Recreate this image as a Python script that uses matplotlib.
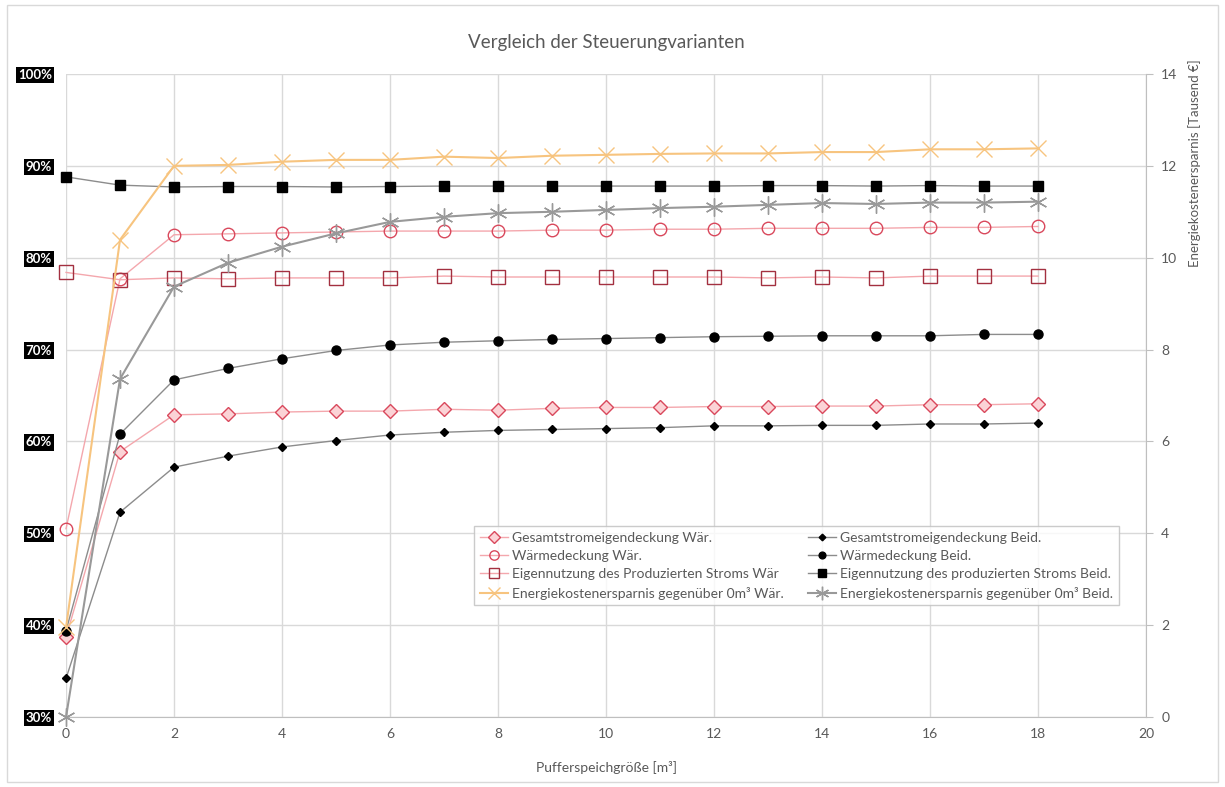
import matplotlib
matplotlib.use('Agg')
import matplotlib.pyplot as plt
from matplotlib.patches import Rectangle

plt.rcParams['font.family'] = ['Lato', 'DejaVu Sans']

TEXT_COLOR = '#595959'
GRID_COLOR = '#d9d9d9'

size = list(range(0, 19))

gesamt_waer = [38.7, 58.9, 62.9, 63.0, 63.2, 63.3, 63.3, 63.5, 63.4, 63.6, 63.7, 63.7,
               63.8, 63.8, 63.85, 63.85, 64.0, 64.0, 64.1]
waerme_waer = [50.5, 77.7, 82.5, 82.6, 82.7, 82.8, 82.9, 82.9, 82.9, 83.0, 83.0, 83.1,
               83.1, 83.2, 83.2, 83.2, 83.3, 83.3, 83.4]
eigen_waer = [78.4, 77.6, 77.8, 77.7, 77.8, 77.8, 77.8, 78.0, 77.9, 77.9, 77.9, 77.9,
              77.9, 77.8, 77.9, 77.8, 78.0, 78.0, 78.0]
kosten_waer = [1.95, 10.39, 12.0, 12.02, 12.09, 12.13, 12.13, 12.2, 12.17, 12.22, 12.24,
               12.26, 12.27, 12.27, 12.3, 12.3, 12.36, 12.36, 12.38]

gesamt_beid = [34.2, 52.3, 57.2, 58.4, 59.4, 60.1, 60.7, 61.0, 61.2, 61.3, 61.4, 61.5,
               61.7, 61.7, 61.75, 61.75, 61.9, 61.9, 62.0]
waerme_beid = [39.4, 60.8, 66.7, 67.95, 69.0, 69.9, 70.5, 70.8, 70.96, 71.1, 71.2, 71.3,
               71.4, 71.45, 71.5, 71.5, 71.5, 71.65, 71.65]
eigen_beid = [88.8, 87.9, 87.7, 87.75, 87.75, 87.7, 87.75, 87.8, 87.8, 87.8, 87.8, 87.8,
              87.8, 87.85, 87.85, 87.8, 87.85, 87.8, 87.8]
kosten_beid = [0.0, 7.36, 9.37, 9.89, 10.24, 10.53, 10.78, 10.89, 10.97, 11.0, 11.04,
               11.08, 11.11, 11.15, 11.19, 11.17, 11.2, 11.2, 11.22]

fig = plt.figure(figsize=(12.25, 7.87), dpi=100)
fig.patches.append(Rectangle((0.006, 0.006), 0.988, 0.988, transform=fig.transFigure,
                             fill=False, edgecolor=GRID_COLOR, linewidth=1))

ax = fig.add_axes([0.0539, 0.0889, 0.8816, 0.8171])
ax2 = ax.twinx()

# left axis (percent)
l1, = ax.plot(size, gesamt_waer, color='#f4a7ad', lw=1, marker='D', ms=7.5,
              mfc='#fbd3d6', mec='#d9485c', mew=1, clip_on=False,
              label='Gesamtstromeigendeckung Wär.')
l2, = ax.plot(size, waerme_waer, color='#f4a7ad', lw=1, marker='o', ms=9,
              mfc='none', mec='#d9485c', mew=1, clip_on=False,
              label='Wärmedeckung Wär.')
l3, = ax.plot(size, eigen_waer, color='#f4a7ad', lw=1, marker='s', ms=10,
              mfc='none', mec='#a33040', mew=1, clip_on=False,
              label='Eigennutzung des Produzierten Stroms Wär')
l5, = ax.plot(size, gesamt_beid, color='#8c8c8c', lw=1, marker='D', ms=4.5,
              mfc='black', mec='black', clip_on=False,
              label='Gesamtstromeigendeckung Beid.')
l6, = ax.plot(size, waerme_beid, color='#8c8c8c', lw=1, marker='o', ms=6.5,
              mfc='black', mec='black', clip_on=False,
              label='Wärmedeckung Beid.')
l7, = ax.plot(size, eigen_beid, color='#8c8c8c', lw=1, marker='s', ms=7,
              mfc='black', mec='black', clip_on=False,
              label='Eigennutzung des produzierten Stroms Beid.')

# right axis (Tausend €)
l4, = ax2.plot(size, kosten_waer, color='#f7c47f', lw=1.5, marker='x', ms=12,
               mec='#f7c47f', mew=1, clip_on=False,
               label='Energiekostenersparnis gegenüber 0m³ Wär.')
l8, = ax2.plot(size, kosten_beid, color='#999999', lw=1.5, marker=(6, 2, 0), ms=13,
               mec='#999999', mew=1, clip_on=False,
               label='Energiekostenersparnis gegenüber 0m³ Beid.')

ax.set_xlim(0, 20)
ax.set_ylim(30, 100)
ax2.set_ylim(0, 14)
ax.set_xticks(range(0, 21, 2))
ax.set_yticks(range(30, 101, 10))
ax.set_yticklabels([f'{v}%' for v in range(30, 101, 10)])
ax2.set_yticks(range(0, 15, 2))

ax.grid(True, color=GRID_COLOR, lw=1)
ax.set_axisbelow(True)
for s in ['top', 'left']:
    ax.spines[s].set_visible(False)
for s in ['top', 'left', 'bottom']:
    ax2.spines[s].set_visible(False)
ax.spines['right'].set_visible(False)
ax.spines['bottom'].set_color('#bfbfbf')
ax2.spines['right'].set_color('#bfbfbf')

ax.tick_params(axis='x', length=0, labelsize=10, labelcolor=TEXT_COLOR, pad=8)
ax.tick_params(axis='y', length=0, labelsize=9.5, labelcolor='white', pad=10)
for lbl in ax.get_yticklabels():
    lbl.set_fontweight('bold')
    lbl.set_bbox(dict(facecolor='black', edgecolor='none', pad=1.5))
ax2.tick_params(axis='y', length=5, color='#bfbfbf', labelsize=10,
                labelcolor=TEXT_COLOR, pad=6)

fig.text(0.495, 0.946, 'Vergleich der Steuerungvarianten', ha='center', va='center',
         fontsize=13.5, color=TEXT_COLOR)
fig.text(0.495, 0.025, 'Pufferspeichgröße [m³]', ha='center', va='center',
         fontsize=10, color=TEXT_COLOR)
fig.text(0.9755, 0.793, 'Energiekostenersparnis [Tausend €]', ha='center', va='center',
         rotation=90, fontsize=9.5, color=TEXT_COLOR)

leg = ax2.legend(handles=[l1, l2, l3, l4, l5, l6, l7, l8], ncol=2,
                 loc='upper left', bbox_to_anchor=(0.3715, 0.3075), fontsize=10,
                 frameon=True, fancybox=False, edgecolor='#bfbfbf',
                 markerscale=0.75, handlelength=2.0, handletextpad=0.3,
                 columnspacing=1.8, labelspacing=0.45, borderpad=0.4)
for t in leg.get_texts():
    t.set_color(TEXT_COLOR)

fig.savefig('out.png', dpi=100)
